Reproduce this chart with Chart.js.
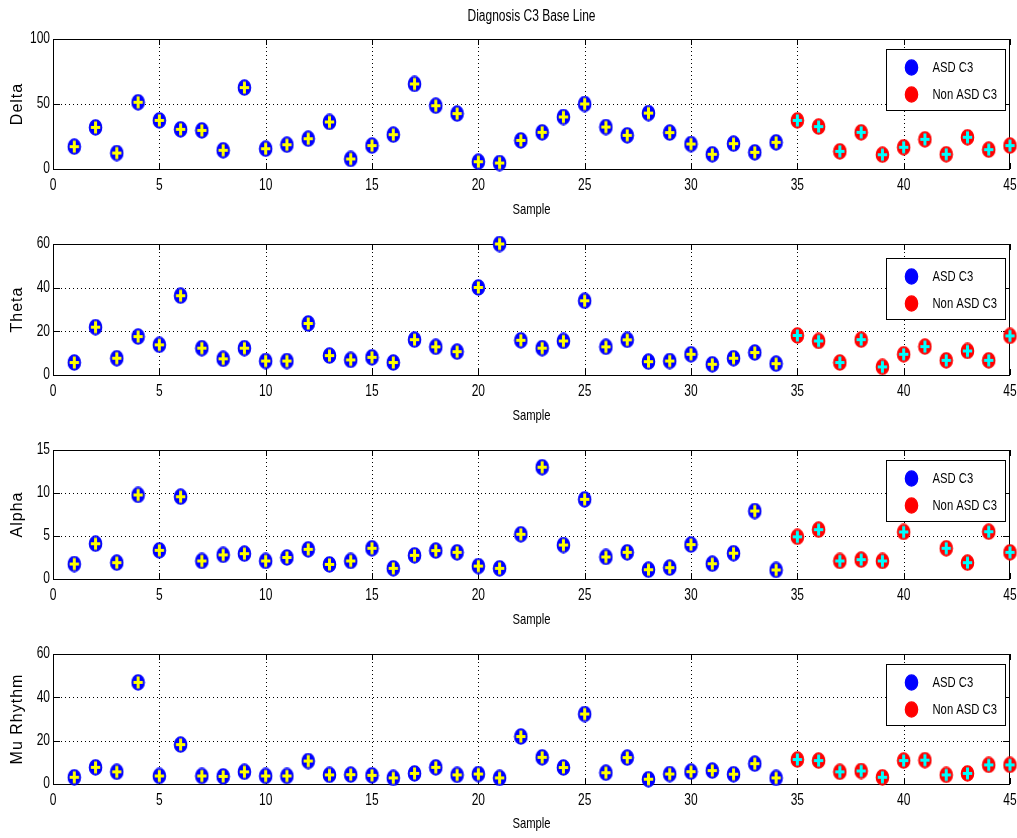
<!DOCTYPE html>
<html>
<head>
<meta charset="utf-8">
<script src="https://cdn.jsdelivr.net/npm/chart.js@4.4.1/dist/chart.umd.min.js"></script>
<style>
  html, body { margin: 0; padding: 0; background: #fff; }
  #page { position: relative; width: 1017px; height: 838px; overflow: hidden; background: #fff; }
  #page canvas { position: absolute; left: 0; }
</style>
</head>
<body>
<div id="page">
  <canvas id="deltaChart" width="1017" height="222"></canvas>
  <canvas id="thetaChart" width="1017" height="205"></canvas>
  <canvas id="alphaChart" width="1017" height="205"></canvas>
  <canvas id="muChart" width="1017" height="206"></canvas>
</div>
<script>
// Values, one per sample. ASD = samples 1..34, Non ASD = 35..45.
const firstNonAsdSample = 35;
const xTicks = [0, 5, 10, 15, 20, 25, 30, 35, 40, 45];

const deltaAsd = [17.2, 32, 12.3, 51.3, 37.4, 30.5, 29.7, 14.4, 62.6, 15.6, 18.7, 23.3, 36.2, 7.7, 18, 26.4, 65.4,
  48.7, 42.6, 5.6, 4.6, 22, 28.2, 40, 50, 32.3, 25.9, 43, 28, 19.2, 11.3, 19.5, 12.8, 20.5];
const deltaNonAsd = [37.4, 32.6, 13.6, 28.2, 11, 16.7, 22.8, 11.3, 24.4, 14.9, 18];
const deltaTicks = [0, 50, 100];

const thetaAsd = [5.7, 21.9, 7.7, 17.6, 13.8, 36.3, 12.3, 7.4, 12.3, 6.4, 6.4, 23.6, 8.9, 6.9, 8.1, 5.7, 16.2,
  12.9, 10.7, 40.1, 60, 15.9, 12.3, 15.6, 34, 12.9, 16.1, 6.1, 6.4, 9.5, 4.9, 7.7, 10.3, 5.2];
const thetaNonAsd = [18.1, 15.6, 5.7, 16.2, 3.7, 9.5, 13, 6.7, 11, 6.7, 17.9];
const thetaTicks = [0, 20, 40, 60];

const alphaAsd = [1.74, 4.1, 1.9, 9.77, 3.33, 9.57, 2.1, 2.8, 2.95, 2.1, 2.5, 3.45, 1.7, 2.1, 3.57, 1.24, 2.75,
  3.3, 3.1, 1.5, 1.24, 5.2, 13, 3.95, 9.26, 2.56, 3.1, 1.08, 1.32, 4, 1.78, 3.0, 7.9, 1.05];
// sample 41 sits behind the legend box in the reference, so it is unknown
const alphaNonAsd = [4.9, 5.74, 2.1, 2.25, 2.1, 5.47, null, 3.57, 1.9, 5.5, 3.1];
const alphaTicks = [0, 5, 10, 15];

const muAsd = [3.1, 7.7, 5.6, 46.9, 3.7, 18.2, 3.7, 3.5, 5.6, 3.7, 3.7, 10.6, 4.2, 4.3, 4, 2.8, 4.9,
  7.7, 4.2, 4.6, 2.8, 21.9, 12.3, 7.6, 32.3, 5.2, 12.2, 2.2, 4.6, 5.7, 6.2, 4.5, 9.4, 2.8];
const muNonAsd = [11.3, 10.8, 5.6, 6, 3.1, 10.8, 11, 4.2, 4.9, 8.8, 8.8];
const muTicks = [0, 20, 40, 60];

const seriesLabels = ["ASD C3", "Non ASD C3"];
const mainTitle = "Diagnosis C3 Base Line";
const xTitle = "Sample";

const sansFont = '"Liberation Sans", Arial, sans-serif';

// no narrow helvetica installed, so squeeze Liberation Sans horizontally
function narrowText(ctx, text, x, y, size, align) {
  ctx.save();
  ctx.translate(x, y);
  ctx.scale(0.75, 1);
  ctx.font = size + "px " + sansFont;
  ctx.fillStyle = "#000";
  ctx.textAlign = align;
  ctx.textBaseline = "middle";
  ctx.fillText(text, 0, 0);
  ctx.restore();
}

// marker: filled ellipse with a thick plus on top (matlab 'o' + '+' overlay look)
function makeMarker(fill, plus) {
  const c = document.createElement("canvas");
  c.width = 15;
  c.height = 17;
  const g = c.getContext("2d");
  g.beginPath();
  g.ellipse(7.5, 8.5, 6.2, 7.6, 0, 0, Math.PI * 2);
  g.fillStyle = fill;
  g.fill();
  g.lineWidth = 1.2;
  g.strokeStyle = fill;
  g.stroke();
  if (plus) {
    g.strokeStyle = plus;
    g.lineWidth = 3;
    g.beginPath();
    g.moveTo(2.8, 8.5);
    g.lineTo(12.2, 8.5);
    g.moveTo(7.5, 2.6);
    g.lineTo(7.5, 14.4);
    g.stroke();
  }
  return c;
}

const asdMarker = makeMarker("#0000ff", "#ffff00");
const nonAsdMarker = makeMarker("#ff0000", "#00ffff");
const legendMarkers = [makeMarker("#0000ff", null), makeMarker("#ff0000", null)];

// matlab style axes: dotted grid, inward ticks, box, labels, legend on top
const matlabAxes = {
  id: "matlabAxes",
  beforeDatasetsDraw(chart, args, opts) {
    const { ctx, chartArea: a, scales } = chart;
    const x = scales.x, y = scales.y;
    ctx.save();
    ctx.strokeStyle = "#000";
    ctx.lineWidth = 1;
    ctx.setLineDash([1, 3]);
    ctx.beginPath();
    x.ticks.forEach((t) => {
      const px = Math.round(x.getPixelForValue(t.value)) + 0.5;
      if (px > a.left + 2 && px < a.right - 2) {
        ctx.moveTo(px, a.top);
        ctx.lineTo(px, a.bottom);
      }
    });
    y.ticks.forEach((t) => {
      const py = Math.round(y.getPixelForValue(t.value)) + 0.5;
      if (py > a.top + 2 && py < a.bottom - 2) {
        ctx.moveTo(a.left, py);
        ctx.lineTo(a.right, py);
      }
    });
    ctx.stroke();
    ctx.setLineDash([]);
    ctx.beginPath();
    x.ticks.forEach((t) => {
      const px = Math.round(x.getPixelForValue(t.value)) + 0.5;
      ctx.moveTo(px, a.bottom);
      ctx.lineTo(px, a.bottom - 6);
      ctx.moveTo(px, a.top);
      ctx.lineTo(px, a.top + 6);
    });
    y.ticks.forEach((t) => {
      const py = Math.round(y.getPixelForValue(t.value)) + 0.5;
      ctx.moveTo(a.left, py);
      ctx.lineTo(a.left + 7, py);
      ctx.moveTo(a.right, py);
      ctx.lineTo(a.right - 7, py);
    });
    ctx.stroke();
    ctx.strokeRect(Math.round(a.left) + 0.5, Math.round(a.top) + 0.5,
      Math.round(a.right - a.left) - 1, Math.round(a.bottom - a.top));

    // tick labels
    x.ticks.forEach((t) => {
      narrowText(ctx, String(t.value), x.getPixelForValue(t.value), a.bottom + 17, 16, "center");
    });
    y.ticks.forEach((t) => {
      narrowText(ctx, String(t.value), a.left - 3, y.getPixelForValue(t.value), 16, "right");
    });

    // axis titles
    const midX = (a.left + a.right) / 2;
    narrowText(ctx, xTitle, midX, opts.sampleY, 15, "center");
    ctx.save();
    ctx.translate(18, (a.top + a.bottom) / 2);
    ctx.rotate(-Math.PI / 2);
    ctx.font = "16px " + sansFont;
    ctx.letterSpacing = "1px";
    ctx.fillStyle = "#000";
    ctx.textAlign = "center";
    ctx.textBaseline = "middle";
    ctx.fillText(opts.yTitle, 0, 0);
    ctx.restore();
    if (opts.title) narrowText(ctx, opts.title, midX, 17, 16, "center");
    ctx.restore();
  },
  afterDatasetsDraw(chart, args, opts) {
    const { ctx, chartArea: a } = chart;
    const w = 119, h = 61;
    const left = Math.round(a.right) - 5 - w + 0.5;
    const top = Math.round(a.top) + opts.legendTop + 0.5;
    ctx.save();
    ctx.fillStyle = "#fff";
    ctx.fillRect(left, top, w, h);
    ctx.strokeStyle = "#000";
    ctx.lineWidth = 1;
    ctx.strokeRect(left, top, w, h);
    chart.data.datasets.forEach((ds, i) => {
      const cy = top + 18 + i * 27;
      ctx.drawImage(legendMarkers[i], left + 25 - 7.5, cy - 8.5);
      narrowText(ctx, ds.label, left + 46, cy, 15, "left");
    });
    ctx.restore();
  },
};

function points(values, firstSample) {
  return values.map((v, i) => ({ x: firstSample + i, y: v }));
}

function makePanel(canvasId, yTitle, asd, nonAsd, yTicks, box, title) {
  const canvas = document.getElementById(canvasId);
  canvas.style.top = box.top + "px";
  const padTop = box.areaTop - box.top;
  const areaBottom = box.areaBottom - box.top;
  const padBottom = 10;
  const xAxisHeight = box.height - padBottom - areaBottom;

  return new Chart(canvas.getContext("2d"), {
    type: "scatter",
    data: {
      datasets: [
        { label: seriesLabels[0], data: points(asd, 1), pointStyle: asdMarker, clip: false },
        { label: seriesLabels[1], data: points(nonAsd, firstNonAsdSample), pointStyle: nonAsdMarker, clip: false },
      ],
    },
    options: {
      responsive: false,
      animation: false,
      events: [],
      layout: { padding: { top: padTop, bottom: padBottom, left: 0, right: 7 } },
      plugins: {
        legend: { display: false },
        tooltip: { enabled: false },
        matlabAxes: {
          legendTop: box.legendTop,
          sampleY: box.sampleY - box.top,
          yTitle,
          title,
        },
      },
      scales: {
        x: {
          type: "linear",
          min: 0,
          max: 45,
          afterBuildTicks: (s) => { s.ticks = xTicks.map((v) => ({ value: v })); },
          afterFit: (s) => { s.height = xAxisHeight; s.paddingLeft = 0; s.paddingRight = 0; },
          grid: { display: false, drawTicks: false },
          border: { display: false },
          ticks: { display: false },
        },
        y: {
          type: "linear",
          min: yTicks[0],
          max: yTicks[yTicks.length - 1],
          afterBuildTicks: (s) => { s.ticks = yTicks.map((v) => ({ value: v })); },
          afterFit: (s) => { s.width = 53; s.paddingTop = 0; s.paddingBottom = 0; },
          grid: { display: false, drawTicks: false },
          border: { display: false },
          ticks: { display: false },
        },
      },
    },
    plugins: [matlabAxes],
  });
}

const panels = [
  { top: 0, height: 222, areaTop: 39, areaBottom: 169, sampleY: 210, legendTop: 10 },
  { top: 222, height: 205, areaTop: 244, areaBottom: 375, sampleY: 416, legendTop: 14 },
  { top: 427, height: 205, areaTop: 450, areaBottom: 579, sampleY: 620, legendTop: 10 },
  { top: 632, height: 206, areaTop: 654, areaBottom: 784, sampleY: 824, legendTop: 10 },
];

makePanel("deltaChart", "Delta", deltaAsd, deltaNonAsd, deltaTicks, panels[0], mainTitle);
makePanel("thetaChart", "Theta", thetaAsd, thetaNonAsd, thetaTicks, panels[1]);
makePanel("alphaChart", "Alpha", alphaAsd, alphaNonAsd, alphaTicks, panels[2]);
makePanel("muChart", "Mu Rhythm", muAsd, muNonAsd, muTicks, panels[3]);
</script>
</body>
</html>
